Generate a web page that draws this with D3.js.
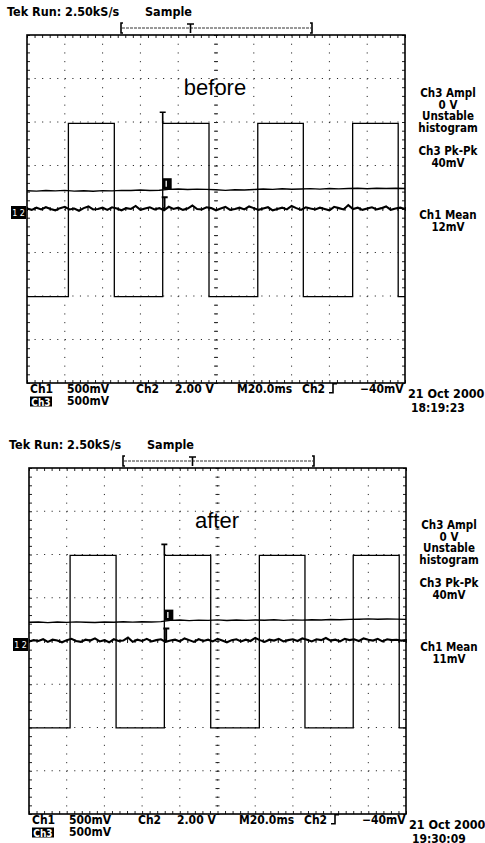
<!DOCTYPE html>
<html>
<head>
<meta charset="utf-8">
<script src="https://cdnjs.cloudflare.com/ajax/libs/d3/7.8.5/d3.min.js"></script>
<style>
  body { margin: 0; background: #fff; }
  svg { display: block; }
  .scope { font-family: 'DejaVu Sans Condensed', 'DejaVu Sans', sans-serif; font-weight: bold; fill: #000; }
  .big { font-family: 'Liberation Sans', Arial, sans-serif; font-weight: normal; fill: #000; }
</style>
</head>
<body>
<div id="chart"></div>
<script>
// scope settings, same for both captures
const timeSpan = [0, 200];      // ms  (10 div x 20 ms)
const ch2Span = [-8, 8];        // V   (8 div x 2.00 V)
const mvSpan = [-2000, 2000];   // mV  (8 div x 500 mV), Ch1 and Ch3

const captureNames = ['before', 'after'];
const ch1Means = ['12mV', '11mV'];
const captureTimes = ['18:19:23', '19:30:09'];
const captureDate = '21 Oct 2000';

// Ch2 square wave: edge times (ms), starts low
const ch2EdgesBefore = [21.9, 46.2, 71.8, 96.3, 122.1, 146.2, 172.3, 196.4];
const ch2EdgesAfter = [21.8, 46.2, 71.8, 96.4, 122.2, 146.4, 172.0, 196.4];
const ch2HighLow = [[3.94, -4.03], [3.96, -4.02]];

// Ch3 trace (mV), one value every 5 ms
const ch3Before = [210, 205, 212, 208, 214, 206, 210, 204, 211, 208,
  214, 212, 218, 213, 216, 226, 230, 224, 229, 226,
  221, 214, 222, 218, 224, 230, 226, 232, 227, 230,
  234, 229, 235, 231, 236, 238, 233, 239, 235, 238, 236];
const ch3After = [216, 220, 213, 219, 215, 221, 217, 214, 220, 216,
  222, 218, 223, 219, 224, 238, 242, 236, 241, 239,
  244, 237, 242, 238, 243, 240, 245, 239, 244, 241,
  246, 243, 248, 245, 250, 252, 256, 251, 255, 253, 250];

// Ch1 trace (mV), one value every 2.5 ms
const ch1Before = [5, -10, 15, -5, 20, 0, -15, 10, 25, -5,
  5, -20, 10, 30, -5, 0, 15, -10, 20, 5,
  -15, 10, 0, 35, -10, 5, 20, -5, 10, -15,
  25, 0, 15, -10, 5, 40, 0, -5, 20, 10,
  -15, 5, 25, -10, 0, 15, -5, 30, 10, -10,
  5, 20, -15, 0, 15, -5, 35, 10, -10, 20,
  5, -5, 15, 0, -15, 25, 10, -5, 45, 0,
  15, -10, 5, 20, -5, 10, 30, -10, 5, 15, 0];
const ch1After = [-5, 10, 0, 20, -10, 15, 5, -15, 10, 25,
  0, -10, 15, 5, 30, -5, 10, -15, 20, 0,
  5, 40, -10, 15, 0, 25, -5, 10, 20, -10,
  5, 15, -5, 30, 10, -10, 20, 0, 15, -5,
  25, 5, -15, 10, 20, -5, 15, 0, 35, 10,
  -10, 15, 5, 25, -5, 10, 20, 0, 30, 15,
  -5, 20, 10, 35, 5, 15, -5, 25, 10, 20,
  0, 30, 15, 5, 25, -5, 20, 10, 15, 5, 10];

const headerText = 'Tek Run: 2.50kS/s';
const rightLabels = ['Ch3 Ampl', '0 V', 'Unstable', 'histogram', 'Ch3 Pk-Pk', '40mV', 'Ch1 Mean'];

// screen boxes of the two photos
const boxes = [
  { x0: 27, x1: 405, y0: 35, y1: 383 },
  { x0: 29, x1: 406, y0: 468, y1: 814 }
];
const rightOffsets = [-112.5, -100.5, -89, -77.5, -54.5, -42, 10, 22];

const svg = d3.select('#chart').append('svg')
  .attr('width', 485).attr('height', 843);
svg.append('rect').attr('width', 485).attr('height', 843).attr('fill', '#fff');

const edgesAll = [ch2EdgesBefore, ch2EdgesAfter];
const ch1All = [ch1Before, ch1After];
const ch3All = [ch3Before, ch3After];

function squarePoints(edges, high, low) {
  const pts = [[timeSpan[0], low]];
  let level = low;
  edges.forEach(t => {
    pts.push([t, level]);
    level = level === low ? high : low;
    pts.push([t, level]);
  });
  pts.push([timeSpan[1], level]);
  return pts;
}

function drawPanel(i) {
  const b = boxes[i];
  const g = svg.append('g');
  const x = d3.scaleLinear().domain(timeSpan).range([b.x0, b.x1]);
  const yV = d3.scaleLinear().domain(ch2Span).range([b.y1, b.y0]);
  const yMv = d3.scaleLinear().domain(mvSpan).range([b.y1, b.y0]);
  const cx = x(100), cy = yMv(0);

  const majorT = d3.range(20, 200, 20);
  const minorT = d3.range(0, 200.01, 4);
  const majorMv = d3.range(-1500, 1501, 500);
  const minorMv = d3.range(-2000, 2000.01, 100);
  const dxMinor = x(4) - x(0);
  const dyMinor = yMv(0) - yMv(100);

  // dotted graticule
  g.selectAll('.gv').data(majorT).join('line')
    .attr('x1', d => x(d)).attr('x2', d => x(d))
    .attr('y1', b.y0).attr('y2', b.y1)
    .attr('stroke', '#222').attr('stroke-width', 1)
    .attr('stroke-dasharray', `1.1 ${dyMinor - 1.1}`);
  g.selectAll('.gh').data(majorMv).join('line')
    .attr('x1', b.x0).attr('x2', b.x1)
    .attr('y1', d => yMv(d)).attr('y2', d => yMv(d))
    .attr('stroke', '#222').attr('stroke-width', 1)
    .attr('stroke-dasharray', `1.1 ${dxMinor - 1.1}`);

  // minor ticks on border and center lines
  const tickAxes = [
    [d3.axisBottom(x).tickValues(minorT).tickSize(3), `translate(0,${b.y0})`],
    [d3.axisTop(x).tickValues(minorT).tickSize(3), `translate(0,${b.y1})`],
    [d3.axisBottom(x).tickValues(minorT).tickSize(4), `translate(0,${cy - 2})`],
    [d3.axisRight(yMv).tickValues(minorMv).tickSize(3), `translate(${b.x0},0)`],
    [d3.axisLeft(yMv).tickValues(minorMv).tickSize(3), `translate(${b.x1},0)`],
    [d3.axisRight(yMv).tickValues(minorMv).tickSize(4), `translate(${cx - 2},0)`]
  ];
  tickAxes.forEach(([ax, tr]) => {
    const a = g.append('g').attr('transform', tr).call(ax.tickFormat(''));
    a.select('.domain').remove();
    a.selectAll('line').attr('stroke', '#222').attr('stroke-width', 1);
  });

  g.append('rect')
    .attr('x', b.x0).attr('y', b.y0)
    .attr('width', b.x1 - b.x0).attr('height', b.y1 - b.y0)
    .attr('fill', 'none').attr('stroke', '#000').attr('stroke-width', 1.6);

  // traces
  const [high, low] = ch2HighLow[i];
  const edges = edgesAll[i];
  g.append('path')
    .datum(squarePoints(edges, high, low))
    .attr('d', d3.line().x(d => x(d[0])).y(d => yV(d[1])))
    .attr('fill', 'none').attr('stroke', '#000').attr('stroke-width', 1.3);

  const ch3 = ch3All[i];
  const ch3Step = (timeSpan[1] - timeSpan[0]) / (ch3.length - 1);
  g.append('path')
    .datum(ch3)
    .attr('d', d3.line().x((d, k) => x(k * ch3Step)).y(d => yMv(d)))
    .attr('fill', 'none').attr('stroke', '#000').attr('stroke-width', 1.4);

  const ch1 = ch1All[i];
  const ch1Step = (timeSpan[1] - timeSpan[0]) / (ch1.length - 1);
  g.append('path')
    .datum(ch1)
    .attr('d', d3.line().x((d, k) => x(k * ch1Step)).y(d => yMv(d)))
    .attr('fill', 'none').attr('stroke', '#000').attr('stroke-width', 2.1);

  // trigger markers at the centre rising edge
  const tx = x(edges[2]);
  const yh = yV(high);
  g.append('path')
    .attr('d', `M${tx - 3},${yh - 11}H${tx + 3}M${tx},${yh - 11}V${yh}`)
    .attr('stroke', '#000').attr('stroke-width', 1.6).attr('fill', 'none');
  const y3 = yMv(ch3[Math.round(edges[2] / ch3Step)]);
  g.append('rect').attr('x', tx).attr('y', y3 - 12).attr('width', 9).attr('height', 11).attr('fill', '#000');
  g.append('line').attr('x1', tx + 3.5).attr('x2', tx + 3.5).attr('y1', y3 - 9.5).attr('y2', y3 - 3.5)
    .attr('stroke', '#fff').attr('stroke-width', 1.3);
  g.append('path')
    .attr('d', `M${tx - 1},${y3 + 7}H${tx + 5}M${tx + 1.8},${y3 + 7}V${cy}`)
    .attr('stroke', '#000').attr('stroke-width', 2).attr('fill', 'none');

  // ground marker for Ch1/Ch2
  g.append('rect').attr('x', b.x0 - 16).attr('y', cy - 3).attr('width', 15).attr('height', 13).attr('fill', '#000');
  g.append('text').attr('x', b.x0 - 8.5).attr('y', cy + 7).attr('text-anchor', 'middle')
    .attr('font-size', 8).attr('fill', '#fff').attr('font-family', 'DejaVu Sans').text('1 2');

  // record bracket
  const by = b.y0 - 7;
  g.append('line').attr('x1', b.x0 + 95).attr('x2', b.x0 + 284).attr('y1', by).attr('y2', by)
    .attr('stroke', '#333').attr('stroke-width', 1).attr('stroke-dasharray', '3 1');
  g.append('path')
    .attr('d', `M${b.x0 + 96},${by - 5}H${b.x0 + 94}V${by + 5}H${b.x0 + 96}` +
      `M${b.x0 + 283},${by - 5}H${b.x0 + 285}V${by + 5}H${b.x0 + 283}` +
      `M${b.x0 + 160},${by - 4}H${b.x0 + 167}M${b.x0 + 163.5},${by - 4}V${by + 5}`)
    .attr('stroke', '#000').attr('stroke-width', 1.6).attr('fill', 'none');

  // texts
  const txt = (tx0, ty, s, cls = 'scope', size = 12, anchor = 'start') =>
    g.append('text').attr('class', cls).attr('x', tx0).attr('y', ty)
      .attr('font-size', size).attr('text-anchor', anchor).text(s);

  txt(b.x0 - 20, b.y0 - 19, headerText, 'scope', 12.5);
  txt(b.x0 + 118, b.y0 - 19, 'Sample', 'scope', 12.5);
  txt(b.x0 + 188, b.y0 + 59.5, captureNames[i], 'big', 22, 'middle');

  const rx = b.x1 + 43;
  rightLabels.concat([ch1Means[i]]).forEach((s, k) => txt(rx, cy + rightOffsets[k], s, 'scope', 11.5, 'middle'));

  const ly = b.y1 + 9.7;
  txt(b.x0 + 3, ly, 'Ch1');
  txt(b.x0 + 40, ly, '500mV');
  txt(b.x0 + 109, ly, 'Ch2');
  txt(b.x0 + 148, ly, '2.00 V');
  txt(b.x0 + 210, ly, 'M20.0ms');
  txt(b.x0 + 275, ly, 'Ch2');
  g.append('path')
    .attr('d', `M${b.x0 + 302},${ly}H${b.x0 + 306}V${ly - 9}H${b.x0 + 310}`)
    .attr('stroke', '#000').attr('stroke-width', 1.6).attr('fill', 'none');
  txt(b.x0 + 333, ly, '\u221240mV');
  g.append('rect').attr('x', b.x0 + 3).attr('y', b.y1 + 13.5).attr('width', 22).attr('height', 10).attr('fill', '#000');
  g.append('text').attr('class', 'scope').attr('x', b.x0 + 14).attr('y', b.y1 + 22.5)
    .attr('font-size', 10).attr('text-anchor', 'middle').style('fill', '#fff').text('Ch3');
  txt(b.x0 + 40, ly + 12.5, '500mV');

  txt(b.x1 + 3, b.y1 + 15, captureDate, 'scope', 12.5);
  txt(b.x1 + 6, b.y1 + 28.5, captureTimes[i], 'scope', 12);
}

captureNames.forEach((n, i) => drawPanel(i));
</script>
</body>
</html>
